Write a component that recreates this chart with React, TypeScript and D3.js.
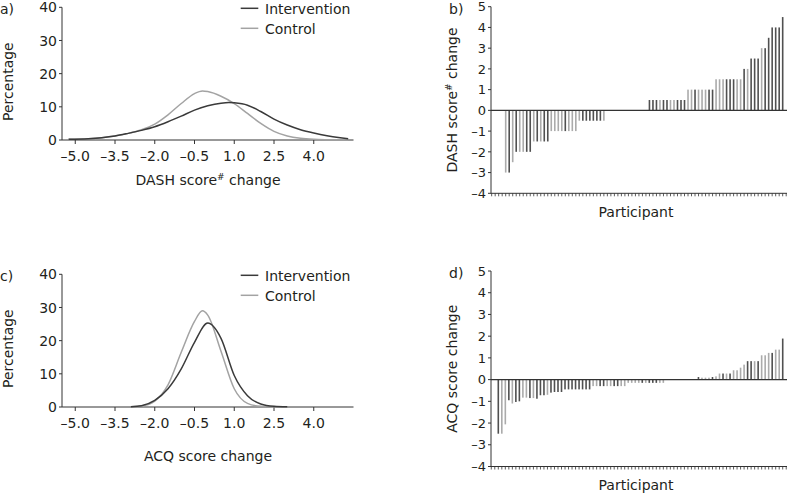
import React from 'react';
import * as d3 from 'd3';

// ---------- data ----------
const densityTicks = [-5.0, -3.5, -2.0, -0.5, 1.0, 2.5, 4.0];
const percentTicks = [0, 10, 20, 30, 40];
const changeTicks = [-4, -3, -2, -1, 0, 1, 2, 3, 4, 5];

// a) DASH score change distribution (percentage)
const dashIntX = [-5.25, -4.5, -4.0, -3.5, -3.0, -2.5, -2.0, -1.5, -1.0, -0.5, 0.0, 0.5, 0.8, 1.0, 1.5, 2.0, 2.5, 3.0, 3.5, 4.0, 4.5, 5.0, 5.3];
const dashIntY = [0.2, 0.4, 0.7, 1.2, 2.0, 2.9, 4.0, 5.5, 7.2, 9.0, 10.3, 11.1, 11.3, 11.2, 10.5, 8.6, 6.3, 4.5, 3.1, 2.1, 1.3, 0.7, 0.4];
const dashCtlX = [-5.25, -4.5, -4.0, -3.5, -3.0, -2.5, -2.0, -1.5, -1.0, -0.5, -0.2, 0.0, 0.5, 1.0, 1.5, 2.0, 2.5, 3.0, 3.5, 4.0, 4.5, 5.3];
const dashCtlY = [0.2, 0.4, 0.7, 1.2, 2.0, 3.1, 4.8, 7.6, 11.0, 14.0, 14.8, 14.6, 13.2, 11.0, 8.0, 5.0, 2.6, 1.2, 0.5, 0.2, 0.1, 0.05];

// c) ACQ score change distribution (percentage)
const acqIntX = [-2.9, -2.5, -2.0, -1.5, -1.0, -0.5, 0.0, 0.5, 1.0, 1.5, 2.0, 2.5, 3.0];
const acqIntY = [0.1, 0.4, 2.0, 5.5, 11.5, 19.5, 25.3, 20.7, 9.5, 3.4, 0.9, 0.2, 0.05];
const acqCtlX = [-2.9, -2.5, -2.0, -1.5, -1.0, -0.5, -0.2, 0.0, 0.5, 1.0, 1.5, 2.0, 2.5, 3.0];
const acqCtlY = [0.05, 0.3, 1.8, 6.7, 16.5, 25.8, 29.0, 27.7, 16.8, 5.5, 1.1, 0.2, 0.05, 0.0];

// b) DASH score change per participant (I = intervention, C = control)
const dashChange = [
  -3, -3, -2.5, -2, -2, -2, -2, -2, -1.5, -1.5, -1.5, -1.5, -1.5,
  -1, -1, -1, -1, -1, -1, -1, -1, -0.5, -0.5, -0.5, -0.5, -0.5, -0.5, -0.5, -0.5,
  0, 0, 0, 0, 0, 0, 0, 0, 0, 0, 0, 0,
  0.5, 0.5, 0.5, 0.5, 0.5, 0.5, 0.5, 0.5, 0.5, 0.5, 0.5,
  1, 1, 1, 1, 1, 1, 1, 1,
  1.5, 1.5, 1.5, 1.5, 1.5, 1.5, 1.5, 1.5,
  2, 2, 2.5, 2.5, 2.5, 3, 3, 3.5, 4, 4, 4, 4.5,
];
const dashGroup = [
  'C', 'I', 'C', 'I', 'C', 'C', 'I', 'I', 'C', 'I', 'C', 'I', 'I',
  'C', 'C', 'C', 'C', 'I', 'C', 'C', 'C', 'C', 'I', 'I', 'I', 'I', 'I', 'I', 'C',
  'I', 'C', 'I', 'C', 'I', 'C', 'I', 'C', 'I', 'C', 'I', 'C',
  'I', 'I', 'I', 'C', 'I', 'I', 'C', 'C', 'I', 'I', 'I',
  'C', 'C', 'I', 'C', 'C', 'C', 'I', 'I',
  'C', 'C', 'C', 'I', 'I', 'I', 'C', 'C',
  'I', 'C', 'I', 'I', 'I', 'C', 'I', 'I', 'I', 'I', 'I', 'I',
];

// d) ACQ score change per participant
const acqChange = [
  -2.49, -2.49, -2.06, -0.95, -1.1, -1.03, -1.0, -0.83, -0.83, -0.85, -0.85, -0.88,
  -0.72, -0.72, -0.7, -0.6, -0.57, -0.57, -0.57,
  -0.45, -0.45, -0.45, -0.45, -0.45, -0.45, -0.45, -0.45,
  -0.3, -0.3, -0.3, -0.3, -0.3, -0.3, -0.3, -0.3, -0.3, -0.3,
  -0.15, -0.15, -0.15, -0.15, -0.15, -0.15, -0.15, -0.15, -0.15, -0.15, -0.15,
  0, 0, 0, 0, 0, 0, 0, 0, 0,
  0.12, 0.09, 0.09, 0.09, 0.12, 0.15, 0.28, 0.28, 0.28, 0.28, 0.43, 0.43, 0.55,
  0.69, 0.85, 0.85, 0.85, 0.85, 1.12, 1.12, 1.23, 1.23, 1.38, 1.38, 1.89,
];
const acqGroup = [
  'I', 'C', 'C', 'I', 'C', 'I', 'I', 'C', 'C', 'I', 'C', 'I',
  'I', 'I', 'C', 'I', 'I', 'I', 'I',
  'I', 'I', 'I', 'I', 'I', 'I', 'I', 'I',
  'C', 'C', 'I', 'I', 'C', 'C', 'I', 'I', 'C', 'C',
  'C', 'C', 'C', 'C', 'I', 'C', 'I', 'I', 'I', 'C', 'C',
  'I', 'C', 'I', 'C', 'I', 'C', 'I', 'C', 'I',
  'I', 'C', 'C', 'C', 'I', 'C', 'C', 'I', 'C', 'I', 'C', 'C', 'C',
  'C', 'I', 'I', 'C', 'I', 'C', 'C', 'C', 'I', 'C', 'C', 'I',
];

// ---------- style ----------
const FONT = 'DejaVu Sans';
const TEXT = '#231f20';
const AXIS = '#333';
const DARK = '#3a3a3a';
const LIGHT = '#a3a3a3';
const BAR_DARK = '#505050';
const BAR_LIGHT = '#ababab';

const fmtDensity = (v: number) => (v < 0 ? '\u2013' + Math.abs(v).toFixed(1) : v.toFixed(1));
const fmtInt = (v: number) => (v < 0 ? '\u2013' + Math.abs(v) : String(v));

type DensityProps = {
  top: number;
  letter: string;
  title: React.ReactNode;
  titleY: number;
  intX: number[]; intY: number[];
  ctlX: number[]; ctlY: number[];
};

function DensityPanel({ top, letter, title, titleY, intX, intY, ctlX, ctlY }: DensityProps) {
  const x = d3.scaleLinear().domain([-5.5, 5.5]).range([62, 353.5]);
  const y = d3.scaleLinear().domain([0, 40]).range([top + 133, top + 0.3]);
  const line = d3.line<[number, number]>().x(d => x(d[0])).y(d => y(d[1])).curve(d3.curveMonotoneX);
  const intPts = intX.map((v, i) => [v, intY[i]] as [number, number]);
  const ctlPts = ctlX.map((v, i) => [v, ctlY[i]] as [number, number]);
  const y0 = y(0);
  return (
    <g fontFamily={FONT} fill={TEXT}>
      <text x={0} y={top + 7} fontSize={14}>{letter}</text>
      <text transform={`translate(12.5,${(y(0) + y(40)) / 2 + 8}) rotate(-90)`} textAnchor="middle" fontSize={14}>Percentage</text>
      {/* y axis */}
      <line x1={x(-5.5)} x2={x(-5.5)} y1={y(40)} y2={y0} stroke={AXIS} strokeWidth={1} />
      {percentTicks.map(t => (
        <g key={t}>
          <line x1={x(-5.5) - 3} x2={x(-5.5)} y1={y(t)} y2={y(t)} stroke={AXIS} />
          <text x={x(-5.5) - 5} y={y(t)} dy="0.36em" textAnchor="end" fontSize={14}>{t}</text>
        </g>
      ))}
      {/* x axis */}
      <line x1={x(-5.5)} x2={x(5.5)} y1={y0} y2={y0} stroke={AXIS} strokeWidth={1} />
      {densityTicks.map(t => (
        <g key={t}>
          <line x1={x(t)} x2={x(t)} y1={y0} y2={y0 + 4} stroke={AXIS} />
          <text x={x(t)} y={y0 + 20.5} textAnchor="middle" fontSize={14}>{fmtDensity(t)}</text>
        </g>
      ))}
      <text x={208} y={titleY} textAnchor="middle" fontSize={14}>{title}</text>
      {/* curves */}
      <path d={line(ctlPts) || ''} fill="none" stroke={LIGHT} strokeWidth={1.5} />
      <path d={line(intPts) || ''} fill="none" stroke={DARK} strokeWidth={1.5} />
      {/* legend */}
      <line x1={240.7} x2={258.3} y1={top + 1.3} y2={top + 1.3} stroke={DARK} strokeWidth={1.5} />
      <text x={265} y={top + 6.5} fontSize={14}>Intervention</text>
      <line x1={240.7} x2={258.3} y1={top + 21.3} y2={top + 21.3} stroke={LIGHT} strokeWidth={1.5} />
      <text x={265} y={top + 26.5} fontSize={14}>Control</text>
    </g>
  );
}

type BarProps = {
  letter: string;
  yTop: number; yBottom: number;
  idxMin: number; idxMax: number;
  values: number[]; groups: string[];
  yLabel: React.ReactNode;
  xLabelY: number;
};

function BarPanel({ letter, yTop, yBottom, idxMin, idxMax, values, groups, yLabel, xLabelY }: BarProps) {
  const x = d3.scaleLinear().domain([idxMin, idxMax]).range([491, 787]);
  const y = d3.scaleLinear().domain([-4, 5]).range([yBottom, yTop]);
  const ticks = d3.range(Math.ceil(idxMin), Math.floor(idxMax) + 1);
  const y0 = y(0);
  return (
    <g fontFamily={FONT} fill={TEXT}>
      <text x={449} y={yTop + 7} fontSize={14}>{letter}</text>
      <text transform={`translate(457,${(yTop + yBottom) / 2}) rotate(-90)`} textAnchor="middle" fontSize={14}>{yLabel}</text>
      <line x1={491} x2={491} y1={yTop} y2={yBottom} stroke={AXIS} />
      {changeTicks.map(t => (
        <g key={t}>
          <line x1={488} x2={491} y1={y(t)} y2={y(t)} stroke={AXIS} />
          <text x={486} y={y(t)} dy="0.36em" textAnchor="end" fontSize={13}>{fmtInt(t)}</text>
        </g>
      ))}
      {values.map((v, i) => (
        v === 0 ? null : (
          <rect key={i} x={x(i) - 0.8} width={1.6}
            y={Math.min(y(v), y0)} height={Math.abs(y(v) - y0)}
            fill={groups[i] === 'I' ? BAR_DARK : BAR_LIGHT} />
        )
      ))}
      <line x1={491} x2={787} y1={y0} y2={y0} stroke={AXIS} strokeWidth={1.2} />
      <line x1={491} x2={787} y1={yBottom} y2={yBottom} stroke={AXIS} />
      {ticks.map(t => (
        <line key={t} x1={x(t)} x2={x(t)} y1={yBottom} y2={yBottom + 3} stroke={AXIS} strokeWidth={0.8} />
      ))}
      <text x={636} y={xLabelY} textAnchor="middle" fontSize={14}>Participant</text>
    </g>
  );
}

const sup = (s: string) => <tspan baselineShift="super" fontSize={9}>{s}</tspan>;

export default function App() {
  return (
    <svg width={789} height={495} style={{ position: 'absolute', left: 0, top: 0, background: '#fff' }}>
      <rect width={789} height={495} fill="#fff" />
      <DensityPanel top={7} letter="a)" titleY={185}
        title={<>DASH score{sup('#')} change</>}
        intX={dashIntX} intY={dashIntY} ctlX={dashCtlX} ctlY={dashCtlY} />
      <DensityPanel top={274} letter="c)" titleY={461}
        title={<>ACQ score change</>}
        intX={acqIntX} intY={acqIntY} ctlX={acqCtlX} ctlY={acqCtlY} />
      <BarPanel letter="b)" yTop={6.7} yBottom={193.3} idxMin={-4.19} idxMax={80.23}
        values={dashChange} groups={dashGroup}
        yLabel={<>DASH score{sup('#')} change</>} xLabelY={216.5} />
      <BarPanel letter="d)" yTop={271} yBottom={466.5} idxMin={-2.08} idxMax={82.22}
        values={acqChange} groups={acqGroup}
        yLabel={<>ACQ score change</>} xLabelY={490} />
    </svg>
  );
}
